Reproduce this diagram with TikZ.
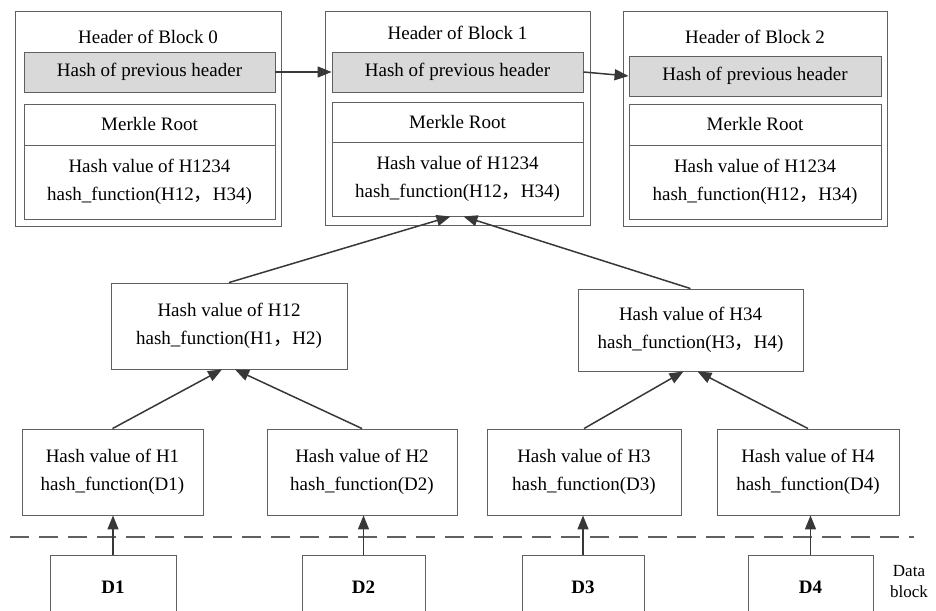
\documentclass[tikz,border=0pt]{standalone}
\usepackage{fontspec}
\setmainfont{Liberation Serif}
\newfontfamily\cjk{Noto Sans CJK SC}
\usetikzlibrary{arrows.meta}
\definecolor{boxc}{HTML}{606060}
\definecolor{arrc}{HTML}{383838}
\definecolor{grayfill}{HTML}{D9D9D9}
\newcommand{\cm}{{\cjk ，}}
\begin{document}
\begin{tikzpicture}[x=1pt,y=-1pt,
  every node/.style={font=\fontsize{19}{28}\selectfont, align=center, inner sep=0pt},
  box/.style={draw=boxc, line width=0.9pt, fill=white},
  graybox/.style={draw=boxc, line width=0.9pt, fill=grayfill},
  arr/.style={draw=arrc, line width=1.5pt, -{Triangle[length=14pt,width=11pt]}},
  dashline/.style={draw=boxc, line width=1.4pt, dash pattern=on 19pt off 10pt},
  lbl/.style={font=\fontsize{17}{21}\selectfont},
  dlab/.style={font=\fontsize{19}{28}\selectfont\bfseries}
]
\useasboundingbox (0,0) rectangle (936,610);
\clip (0,0) rectangle (936,610);
% Block 0
\node[box, minimum width=266pt, minimum height=215pt] (b0) at (148,118.5) {};
\node (t0) at (148,37) {Header of Block 0};
\node[graybox, minimum width=251pt, minimum height=40pt] (g0) at (149.5,72) {Hash of previous header};
\node[box, minimum width=251pt, minimum height=41pt] (m0) at (149.5,124.5) {Merkle Root};
\node[box, minimum width=251pt, minimum height=74pt] (l0) at (149.5,182) {Hash value of H1234\\hash\_function(H12\cm H34)};
% Block 1
\node[box, minimum width=265pt, minimum height=214pt] (b1) at (457.5,118) {};
\node (t1) at (457.5,33) {Header of Block 1};
\node[graybox, minimum width=251pt, minimum height=40pt] (g1) at (457.5,72) {Hash of previous header};
\node[box, minimum width=251pt, minimum height=40pt] (m1) at (457.5,122) {Merkle Root};
\node[box, minimum width=251pt, minimum height=74pt] (l1) at (457.5,179) {Hash value of H1234\\hash\_function(H12\cm H34)};
% Block 2
\node[box, minimum width=264pt, minimum height=215pt] (b2) at (755,118.5) {};
\node (t2) at (755,37) {Header of Block 2};
\node[graybox, minimum width=252pt, minimum height=40pt] (g2) at (755,76) {Hash of previous header};
\node[box, minimum width=252pt, minimum height=41pt] (m2) at (755,124.5) {Merkle Root};
\node[box, minimum width=252pt, minimum height=74pt] (l2) at (755,182) {Hash value of H1234\\hash\_function(H12\cm H34)};
% middle level
\node[box, minimum width=236pt, minimum height=86pt] (h12) at (229,326) {Hash value of H12\\hash\_function(H1\cm H2)};
\node[box, minimum width=225pt, minimum height=82pt] (h34) at (690.5,330) {Hash value of H34\\hash\_function(H3\cm H4)};
% leaf level
\node[box, minimum width=181pt, minimum height=86pt] (h1) at (112.5,472) {Hash value of H1\\hash\_function(D1)};
\node[box, minimum width=190pt, minimum height=86pt] (h2) at (362,472) {Hash value of H2\\hash\_function(D2)};
\node[box, minimum width=194pt, minimum height=86pt] (h3) at (584,472) {Hash value of H3\\hash\_function(D3)};
\node[box, minimum width=182pt, minimum height=86pt] (h4) at (808,472) {Hash value of H4\\hash\_function(D4)};
% dashed separator
\coordinate (dl) at (10,537);
\coordinate (dr) at (914,537);
\draw[dashline] (dl) -- (dr);
% data blocks
\node[box, dlab, minimum width=126pt, minimum height=64pt] (d1) at (113,587) {D1};
\node[box, dlab, minimum width=123pt, minimum height=64pt] (d2) at (363.5,587) {D2};
\node[box, dlab, minimum width=122pt, minimum height=64pt] (d3) at (583,587) {D3};
\node[box, dlab, minimum width=125pt, minimum height=64pt] (d4) at (810.5,587) {D4};
\node[lbl] (db) at (909,582) {Data\\block};
% arrows
\draw[arr] (g0.east) -- (g1.west);
\draw[arr] (g1.east) -- (g2.west);
\draw[arr] (h12.north) -- ([xshift=-7pt]l1.south);
\draw[arr] (h34.north) -- ([xshift=6pt]l1.south);
\draw[arr] (h1.north) -- ([xshift=-7pt]h12.south);
\draw[arr] (h2.north) -- ([xshift=6pt]h12.south);
\draw[arr] (h3.north) -- ([xshift=-7pt]h34.south);
\draw[arr] (h4.north) -- ([xshift=7pt]h34.south);
\draw[arr] (d1.north) -- (d1.north |- h1.south);
\draw[arr] (d2.north) -- (d2.north |- h2.south);
\draw[arr] (d3.north) -- (d3.north |- h3.south);
\draw[arr] (d4.north) -- (d4.north |- h4.south);
\end{tikzpicture}
\end{document}
